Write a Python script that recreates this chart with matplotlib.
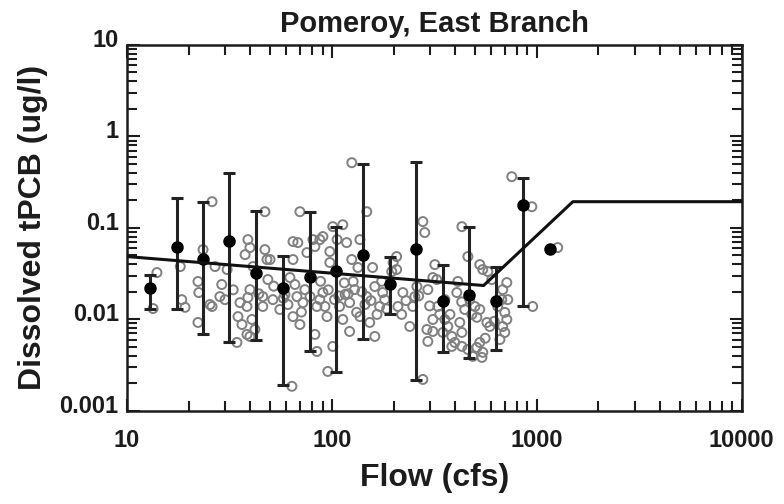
import matplotlib
matplotlib.use("Agg")
import matplotlib.pyplot as plt
import matplotlib.transforms as mtransforms
from matplotlib.ticker import LogLocator, FixedLocator, FixedFormatter, NullFormatter

plt.rcParams['font.family'] = ['Liberation Sans', 'DejaVu Sans']

# Binned means with ranges (black points + error bars)
bin_flow = [12.9, 17.5, 23.5, 31.5, 42.6, 57.7, 78.1, 104.6, 141.6, 191.9, 257, 347.8, 465.9, 631, 855]
bin_conc = [0.0222, 0.0623, 0.0461, 0.0724, 0.0324, 0.0222, 0.0293, 0.0333, 0.0509, 0.0246, 0.0593, 0.0160, 0.0182, 0.0160, 0.179]
bin_hi = [0.0308, 0.214, 0.193, 0.401, 0.154, 0.0498, 0.150, 0.103, 0.502, 0.0485, 0.528, 0.0396, 0.103, 0.0377, 0.353]
bin_lo = [0.0131, 0.0131, 0.00683, 0.00558, 0.00601, 0.00189, 0.00445, 0.00262, 0.00616, 0.0113, 0.00215, 0.00435, 0.00373, 0.00456, 0.0138]
single_flow = [1157]
single_conc = [0.0593]

# Fitted piecewise line
fit_flow = [10, 550, 1500, 10000]
fit_conc = [0.0485, 0.0234, 0.193, 0.193]

# Individual samples (gray open circles)
obs_flow = [14.0, 13.4, 18.2, 18.5, 19.2, 26.0, 22.2, 22.4, 22.2, 26.0, 26.9, 28.4, 30.1, 30.8,
            34.4, 35.6, 34.8, 36.4, 37.7, 38.9, 39.8, 41.2, 39.8, 38.9, 38.5, 40.7, 42.1, 39.8,
            47.1, 47.1, 48.2, 48.7, 46.0, 46.0, 23.5, 25.4, 38.5,
            49.9, 51.5, 55.7, 64.6, 62.4, 67.5, 64.6, 63.8, 69.8, 68.2, 75.5, 80.8, 87.3, 82.6,
            78.2, 72.2, 84.5, 82.6, 84.5, 90.4, 92.5, 97.7, 94.6, 113, 106, 118, 97.7, 101, 95.5,
            113, 109, 125, 148, 137, 125, 134, 127, 122, 132, 148, 158, 162, 171, 122, 162, 137,
            153, 101, 90.4, 64.6,
            59.0, 61.0, 73.8, 103, 116, 145, 69.8, 87.3, 129, 166,
            278, 284, 207, 199, 207, 222, 240, 291, 311, 294, 318, 325, 278, 196, 177, 181, 210,
            219, 254, 248, 260, 294, 311, 311, 329, 336, 348, 368, 385, 398, 385, 412, 407, 421,
            431, 431, 461, 482, 499, 510, 527, 527, 545, 577, 603, 571, 590, 527, 510, 545, 540,
            487, 461, 431, 645, 675, 682, 714, 698, 714, 682, 698, 661, 722, 755, 946, 955, 1265,
            356, 377, 445, 471, 356,
            44, 52, 58, 66, 71, 88, 96, 108, 115, 120, 140, 155, 175, 185, 230, 265, 300, 430,
            560, 620, 33, 29]
obs_conc = [0.0324, 0.0131, 0.0377, 0.0164, 0.0135, 0.193, 0.0259, 0.0196, 0.00923, 0.0138, 0.0377,
            0.0177, 0.0164, 0.0350,
            0.00558, 0.0152, 0.0107, 0.00877, 0.0509, 0.0743, 0.0608, 0.0377, 0.0211, 0.0173,
            0.0138, 0.00995, 0.00774, 0.00649,
            0.150, 0.0578, 0.0450, 0.0272, 0.0177, 0.0138, 0.0578, 0.0145, 0.00683,
            0.0450, 0.0164, 0.0128, 0.0450, 0.0286, 0.0177, 0.0107, 0.00185, 0.150, 0.0689,
            0.0536, 0.0743, 0.0743, 0.0623,
            0.0177, 0.0152, 0.0138, 0.00683, 0.00445, 0.0196, 0.0138, 0.0417, 0.0107, 0.108,
            0.0743, 0.0689, 0.0550, 0.00505, 0.00269,
            0.00995, 0.0138, 0.515, 0.150, 0.0743, 0.0450, 0.0368, 0.0259, 0.0152, 0.0119, 0.0177,
            0.0368, 0.0228, 0.0138, 0.00736, 0.00649, 0.0107,
            0.00923, 0.103, 0.0802, 0.0707,
            0.0187, 0.0145, 0.0211, 0.0164, 0.0187, 0.0145, 0.00877, 0.0164, 0.0211, 0.0113,
            0.117, 0.0887, 0.0485, 0.0417, 0.0350, 0.0196, 0.00834, 0.00774, 0.00736, 0.00573,
            0.0396, 0.0272, 0.00220, 0.0333, 0.0196, 0.0164, 0.0138,
            0.0113, 0.0177, 0.0138, 0.0228, 0.0211, 0.00995, 0.0286, 0.0138, 0.0113, 0.00718,
            0.00834, 0.00649, 0.00558, 0.00505, 0.0259, 0.0196, 0.00923,
            0.00718, 0.103, 0.0485, 0.0113, 0.0138, 0.0105, 0.0128, 0.0396, 0.0350, 0.0333,
            0.0272, 0.00923, 0.00834, 0.00558, 0.00492, 0.00435, 0.00383,
            0.00393, 0.00468, 0.00505, 0.0138, 0.0164, 0.0211, 0.0252, 0.0119, 0.00995, 0.00834,
            0.00718, 0.00601, 0.0164, 0.362, 0.170, 0.0138, 0.0608,
            0.0164, 0.0113, 0.0128, 0.0164, 0.00995,
            0.019, 0.023, 0.017, 0.024, 0.012, 0.026, 0.021, 0.018, 0.025, 0.019, 0.020, 0.016,
            0.026, 0.013, 0.016, 0.018, 0.014, 0.0155, 0.0062, 0.0095, 0.021, 0.024]

x_ticks = [10, 100, 1000, 10000]
x_labels = ['10', '100', '1000', '10000']
y_ticks = [0.001, 0.01, 0.1, 1, 10]
y_labels = ['0.001', '0.01', '0.1', '1', '10']

ink = '#1c1c1c'

fig = plt.figure(figsize=(7.84, 5.04), dpi=100)
ax = fig.add_axes([0.162, 0.185, 0.784, 0.726])

ax.scatter(obs_flow, obs_conc, s=42, facecolors='none', edgecolors='#808080', linewidths=1.4, zorder=2)

lower = [c - l for c, l in zip(bin_conc, bin_lo)]
upper = [h - c for c, h in zip(bin_conc, bin_hi)]
ax.errorbar(bin_flow, bin_conc, yerr=[lower, upper], fmt='none', ecolor='#222222',
            elinewidth=2.2, capsize=4.5, capthick=2.2, zorder=3)
ax.plot(bin_flow, bin_conc, 'o', color='black', markersize=8, zorder=4)
ax.plot(single_flow, single_conc, 'o', color='black', markersize=8, zorder=4)
ax.plot(fit_flow, fit_conc, '-', color='#111111', linewidth=2.2, zorder=5)

ax.set_xscale('log')
ax.set_yscale('log')
ax.set_xlim(10, 10000)
ax.set_ylim(0.001, 10)

ax.xaxis.set_major_locator(FixedLocator(x_ticks))
ax.xaxis.set_major_formatter(FixedFormatter(x_labels))
ax.yaxis.set_major_locator(FixedLocator(y_ticks))
ax.yaxis.set_major_formatter(FixedFormatter(y_labels))
ax.xaxis.set_minor_locator(LogLocator(base=10, subs=range(2, 10), numticks=20))
ax.yaxis.set_minor_locator(LogLocator(base=10, subs=range(2, 10), numticks=20))
ax.xaxis.set_minor_formatter(NullFormatter())
ax.yaxis.set_minor_formatter(NullFormatter())

ax.tick_params(which='both', direction='in', top=True, right=True, width=1.5, colors=ink)
ax.tick_params(which='major', length=9)
ax.tick_params(which='minor', length=7.5)
ax.tick_params(axis='x', which='major', pad=13, labelsize=17)
ax.tick_params(axis='y', which='major', pad=6, labelsize=17)
shift = mtransforms.ScaledTranslation(0, 5 / 72, fig.dpi_scale_trans)
for lab in ax.get_yticklabels():
    lab.set_transform(lab.get_transform() + shift)
for lab in ax.get_xticklabels() + ax.get_yticklabels():
    lab.set_fontweight('bold')
    lab.set_color(ink)

for sp in ax.spines.values():
    sp.set_linewidth(1.8)
    sp.set_color(ink)

ax.set_title('Pomeroy, East Branch', fontsize=21, fontweight='bold', pad=9, color=ink)
ax.set_xlabel('Flow (cfs)', fontsize=23, fontweight='bold', labelpad=8, color=ink)
ax.set_ylabel('Dissolved tPCB (ug/l)', fontsize=23, fontweight='bold', labelpad=8, color=ink)

fig.savefig('out.png', dpi=100)
